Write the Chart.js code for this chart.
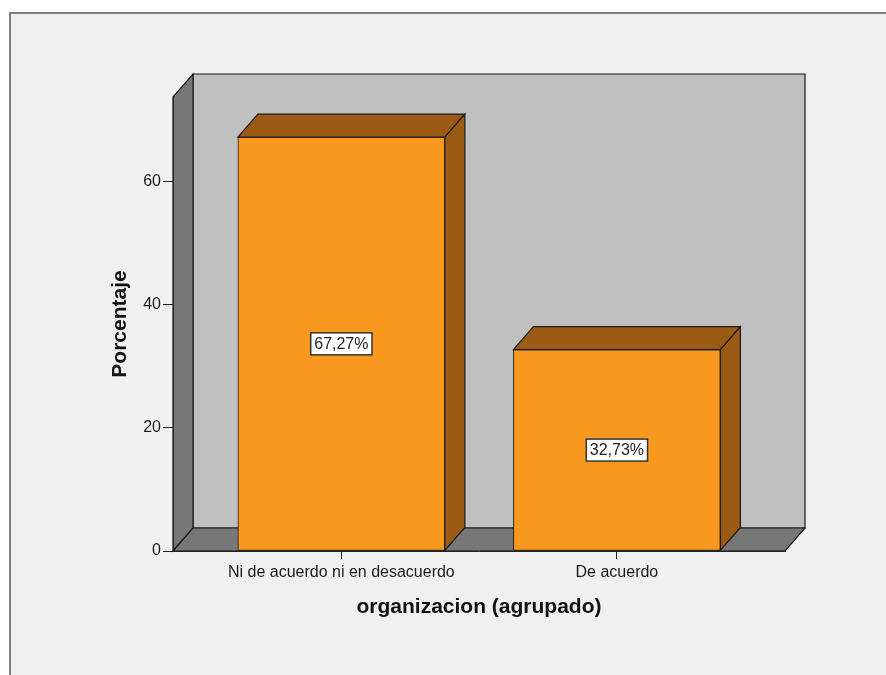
<!DOCTYPE html>
<html>
<head>
<meta charset="utf-8">
<script src="https://cdn.jsdelivr.net/npm/chart.js@4.4.1/dist/chart.umd.min.js"></script>
<style>
  html, body { margin: 0; padding: 0; background: #ffffff; }
  #frame {
    position: absolute; left: 9px; top: 12px; width: 877px; height: 663px;
    background: #f0f0f0; border-left: 2px solid #7f7f7f; border-top: 2px solid #7f7f7f;
  }
  #chart { position: absolute; left: 0; top: 0; }
</style>
</head>
<body>
<div id="frame"></div>
<canvas id="chart" width="886" height="675"></canvas>
<script>
const categories = ['Ni de acuerdo ni en desacuerdo', 'De acuerdo']
const percentages = [67.27, 32.73]
const valueLabels = ['67,27%', '32,73%']
const yTickValues = [0, 20, 40, 60]
const yMax = 73.8

// depth of the fake 3D box
const DX = 20
const DY = -23

function poly(ctx, pts, fill) {
    ctx.beginPath()
    ctx.moveTo(pts[0][0], pts[0][1])
    for (let i = 1; i < pts.length; i++) ctx.lineTo(pts[i][0], pts[i][1])
    ctx.closePath()
    ctx.fillStyle = fill
    ctx.fill()
    ctx.lineWidth = 1.2
    ctx.strokeStyle = '#1a1a1a'
    ctx.stroke()
}

const box3d = {
    id: 'box3d',
    beforeDraw(chart) {
        const { ctx, chartArea: a } = chart
        ctx.save()
        // back wall
        poly(ctx, [[a.left + DX, a.top + DY], [a.right + DX, a.top + DY],
                   [a.right + DX, a.bottom + DY], [a.left + DX, a.bottom + DY]], '#c0c0c0')
        // left wall
        poly(ctx, [[a.left, a.top], [a.left + DX, a.top + DY],
                   [a.left + DX, a.bottom + DY], [a.left, a.bottom]], '#777777')
        // floor
        poly(ctx, [[a.left, a.bottom], [a.left + DX, a.bottom + DY],
                   [a.right + DX, a.bottom + DY], [a.right, a.bottom]], '#777777')
        ctx.restore()
    },
    afterDatasetsDraw(chart) {
        const ctx = chart.ctx
        const meta = chart.getDatasetMeta(0)
        ctx.save()
        meta.data.forEach((bar, i) => {
            const { x, y, base, width } = bar.getProps(['x', 'y', 'base', 'width'], true)
            const l = x - width / 2
            const r = x + width / 2
            // top face
            poly(ctx, [[l, y], [l + DX, y + DY], [r + DX, y + DY], [r, y]], '#9b5b14')
            // right face
            poly(ctx, [[r, y], [r + DX, y + DY], [r + DX, base + DY], [r, base]], '#9b5b14')

            // value label
            ctx.font = '16px "Liberation Sans", Arial, sans-serif'
            const tw = ctx.measureText(valueLabels[i]).width
            const cy = (y + base) / 2
            const bw = tw + 7
            const bh = 22
            ctx.fillStyle = '#ffffff'
            ctx.fillRect(x - bw / 2, cy - bh / 2, bw, bh)
            ctx.lineWidth = 1.5
            ctx.strokeStyle = '#333333'
            ctx.strokeRect(x - bw / 2, cy - bh / 2, bw, bh)
            ctx.fillStyle = '#222222'
            ctx.textAlign = 'center'
            ctx.textBaseline = 'middle'
            ctx.fillText(valueLabels[i], x, cy + 1)
        })
        ctx.restore()
    }
}

new Chart(document.getElementById('chart'), {
    type: 'bar',
    data: {
        datasets: [{
            data: percentages.map((v, i) => ({ x: i, y: v })),
            backgroundColor: '#f8981e',
            borderColor: '#1a1a1a',
            borderWidth: 1,
            borderSkipped: false,
            barThickness: 207
        }]
    },
    options: {
        responsive: false,
        devicePixelRatio: 1,
        animation: false,
        layout: { padding: { left: 108, right: 101, top: 97, bottom: 55 } },
        plugins: { legend: { display: false }, tooltip: { enabled: false } },
        scales: {
            x: {
                type: 'linear',
                offset: false,
                min: -0.611,
                max: 1.61,
                afterBuildTicks: (scale) => { scale.ticks = categories.map((c, i) => ({ value: i })) },
                afterFit: (scale) => { scale.height = 69 },
                grid: { offset: false, drawOnChartArea: false, drawTicks: true, tickLength: 8, color: '#222222' },
                border: { color: '#222222', width: 1 },
                ticks: {
                    autoSkip: false,
                    maxRotation: 0,
                    padding: 4,
                    color: '#1a1a1a',
                    font: { family: '"Liberation Sans", Arial, sans-serif', size: 16 },
                    callback: (v) => categories[v]
                },
                title: {
                    display: true,
                    text: 'organizacion (agrupado)',
                    color: '#111111',
                    padding: 0,
                    font: { family: '"Liberation Sans", Arial, sans-serif', size: 21, weight: 'bold' }
                }
            },
            y: {
                min: 0,
                max: yMax,
                afterBuildTicks: (scale) => { scale.ticks = yTickValues.map(v => ({ value: v })) },
                afterFit: (scale) => { scale.width = 65 },
                grid: { drawOnChartArea: false, drawTicks: true, tickLength: 10, color: '#222222' },
                border: { color: '#222222', width: 1 },
                ticks: {
                    padding: 2,
                    color: '#1a1a1a',
                    font: { family: '"Liberation Sans", Arial, sans-serif', size: 16 }
                },
                title: {
                    display: true,
                    text: 'Porcentaje',
                    color: '#111111',
                    padding: 0,
                    font: { family: '"Liberation Sans", Arial, sans-serif', size: 21, weight: 'bold' }
                }
            }
        }
    },
    plugins: [box3d]
})
</script>
</body>
</html>
